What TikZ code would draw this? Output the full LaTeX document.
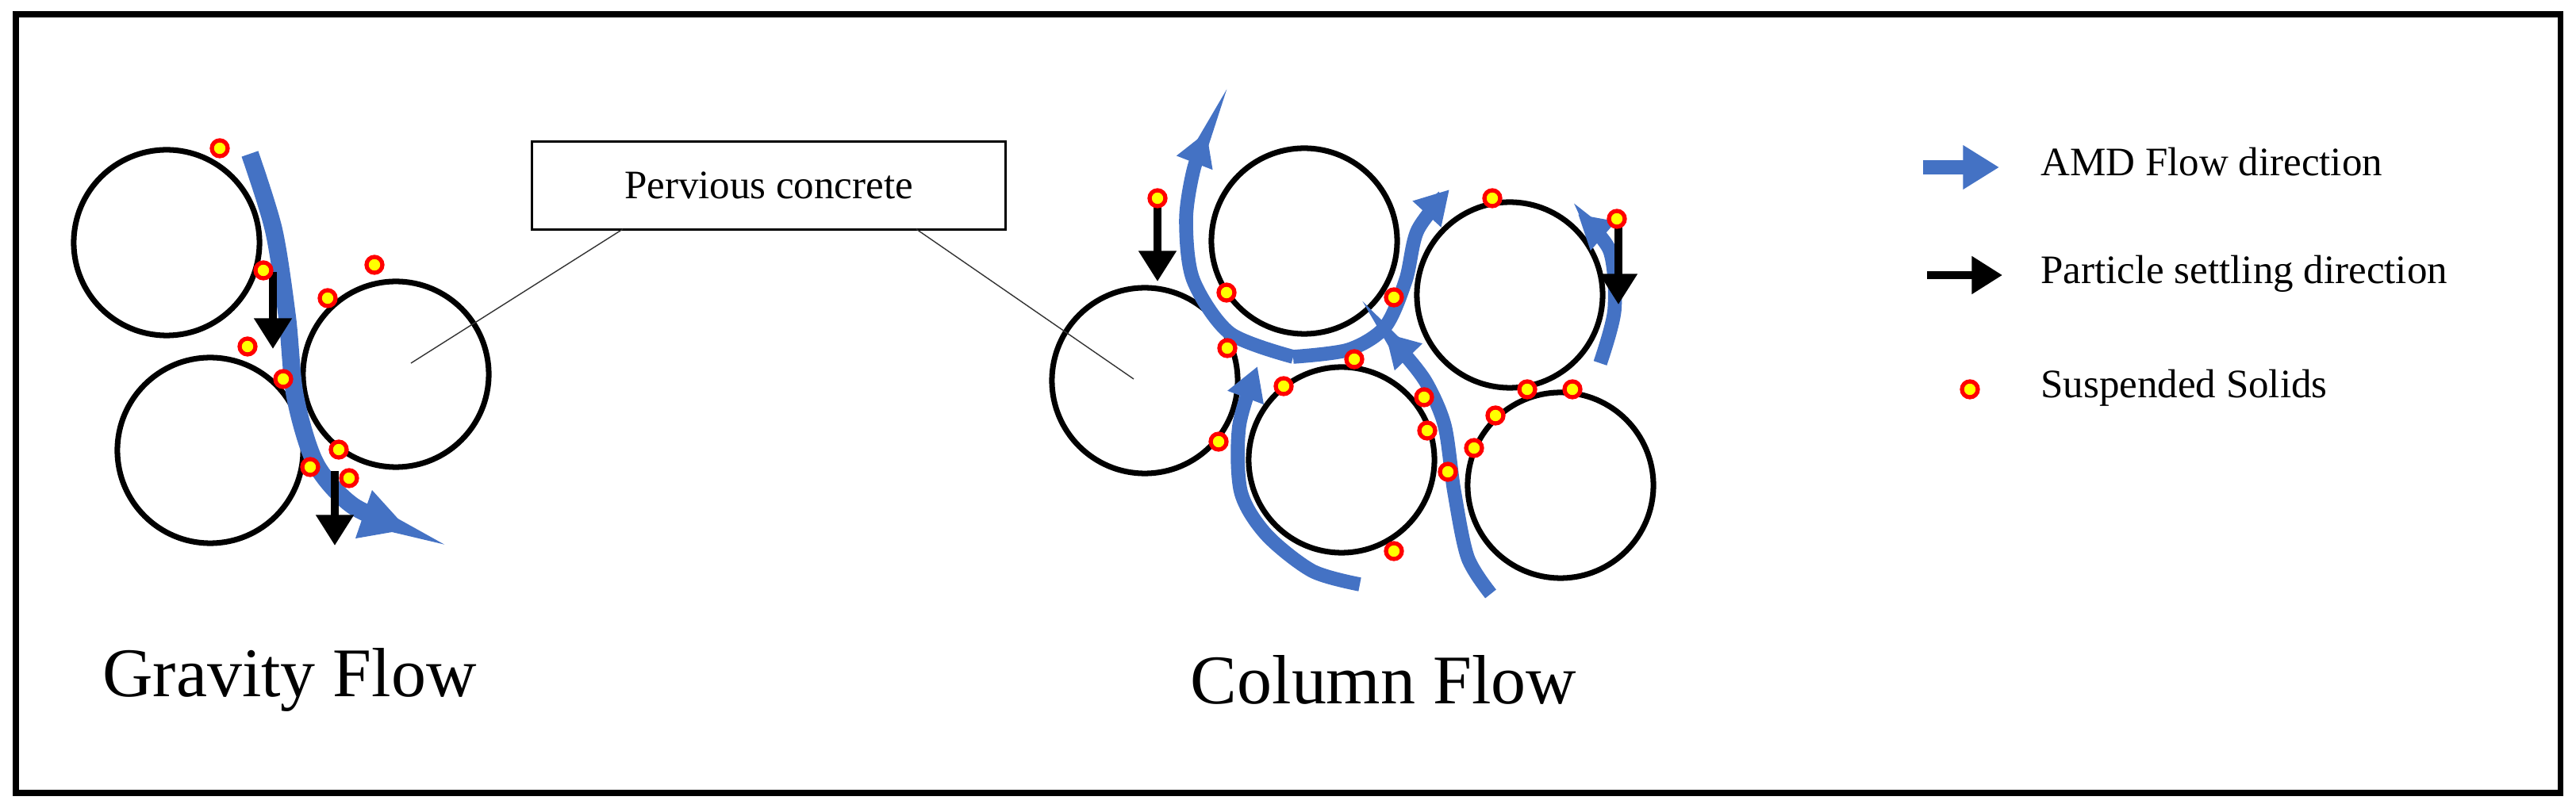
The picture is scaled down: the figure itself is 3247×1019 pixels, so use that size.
\documentclass[tikz,border=0pt]{standalone}
\usepackage{fontspec}
\setmainfont{Liberation Serif}
\usetikzlibrary{arrows.meta}
\definecolor{amd}{HTML}{4472C4}
\definecolor{ssred}{HTML}{FF0000}
\definecolor{ssyel}{HTML}{FFFF00}
\begin{document}
\begin{tikzpicture}[x=0.01cm,y=-0.01cm,
  grain/.style={circle,draw=black,line width=2pt,minimum size=2.34cm,inner sep=0pt},
  dot/.style={circle,draw=ssred,fill=ssyel,line width=1.5pt,minimum size=0.2cm,inner sep=0pt},
  flowg/.style={draw=amd,line width=6.3pt,-{Triangle[width=17pt,length=17pt]}},
  flowc/.style={draw=amd,line width=5pt,-{Triangle[width=13pt,length=12pt]}},
  settle/.style={draw=black,line width=2.6pt,-{Triangle[width=13pt,length=11pt]}},
  leader/.style={draw=black!80,line width=0.4pt},
  small/.style={font=\fontsize{14.5}{17}\selectfont},
  big/.style={font=\fontsize{25}{29}\selectfont}]
\useasboundingbox (0,0) rectangle (3247,1019);
\draw[line width=2pt] (20,18) rectangle (3227,1000);
% Gravity flow grains
\node[grain] (g1) at (210,306) {};
\node[grain] (g2) at (265,568) {};
\node[grain] (g3) at (499,472) {};
\draw[flowg] plot[smooth] coordinates {(315,194) (345,290) (362,400) (372,500) (398,585) (445,638) (515,668)};
\coordinate (s1a) at (344,343); \coordinate (s1b) at (344,440);
\draw[settle] (s1a) -- (s1b);
\coordinate (s2a) at (422,594); \coordinate (s2b) at (422,688);
\draw[settle] (s2a) -- (s2b);
\foreach \p [count=\i] in {(277,187),(332,341),(413,376),(472,334),(312,437),(357,478),(427,567),(391,589),(440,603)}
  \node[dot] (gd\i) at \p {};
% Column flow grains
\node[grain] (cA) at (1443,480) {};
\node[grain] (cB) at (1644,304) {};
\node[grain] (cC) at (1903,372) {};
\node[grain] (cD) at (1691,580) {};
\node[grain] (cE) at (1967,612) {};
\draw[flowc] plot[smooth] coordinates {(1714,737) (1654,720) (1596,674) (1564,620) (1562,537) (1585,462)};
\draw[flowc] plot[smooth] coordinates {(1630,450) (1550,420) (1504,353) (1495,278) (1504,216) (1521,166)};
\draw[flowc] plot[smooth] coordinates {(1630,450) (1700,441) (1746,412) (1772,353) (1787,290) (1827,239)};
\draw[flowc] plot[smooth] coordinates {(1879,749) (1850,703) (1833,620) (1821,537) (1798,483) (1769,445) (1746,420)};
\draw[flowc] plot[smooth] coordinates {(2017,458) (2035,391) (2029,316) (1989,270)};
\coordinate (s3a) at (1459,255); \coordinate (s3b) at (1459,355);
\draw[settle] (s3a) -- (s3b);
\coordinate (s4a) at (2040,280); \coordinate (s4b) at (2040,384);
\draw[settle] (s4a) -- (s4b);
\foreach \p [count=\i] in {(1459,250),(1546,369),(1547,439),(1536,557),(1618,487),(1707,453),(1757,375),(1881,250),(2038,276),(1795,501),(1799,543),(1825,595),(1885,524),(1858,565),(1925,491),(1982,491),(1757,695)}
  \node[dot] (cd\i) at \p {};
% Pervious concrete box
\node[draw=black,line width=0.8pt,minimum width=5.96cm,minimum height=1.11cm,small] (box) at (969,234) {Pervious concrete};
\coordinate (la) at (785,289); \coordinate (lb) at (518,458);
\coordinate (ra) at (1155,289); \coordinate (rb) at (1429,478);
\draw[leader] (la) -- (lb);
\draw[leader] (ra) -- (rb);
% Labels
\node[big] (tg) at (365,857) {Gravity Flow};
\node[big] (tc) at (1744,857) {Column Flow};
% Legend
\coordinate (l1a) at (2424,211); \coordinate (l1b) at (2520,211);
\draw[draw=amd,line width=5pt,-{Triangle[width=15pt,length=13pt]}] (l1a) -- (l1b);
\node[small,anchor=west] (t1) at (2560,204) {AMD Flow direction};
\coordinate (l2a) at (2429,347); \coordinate (l2b) at (2524,347);
\draw[settle] (l2a) -- (l2b);
\node[small,anchor=west] (t2) at (2560,345) {Particle settling direction};
\node[dot] (l3) at (2483,491) {};
\node[small,anchor=west] (t3) at (2560,489) {Suspended Solids};
\end{tikzpicture}
\end{document}
